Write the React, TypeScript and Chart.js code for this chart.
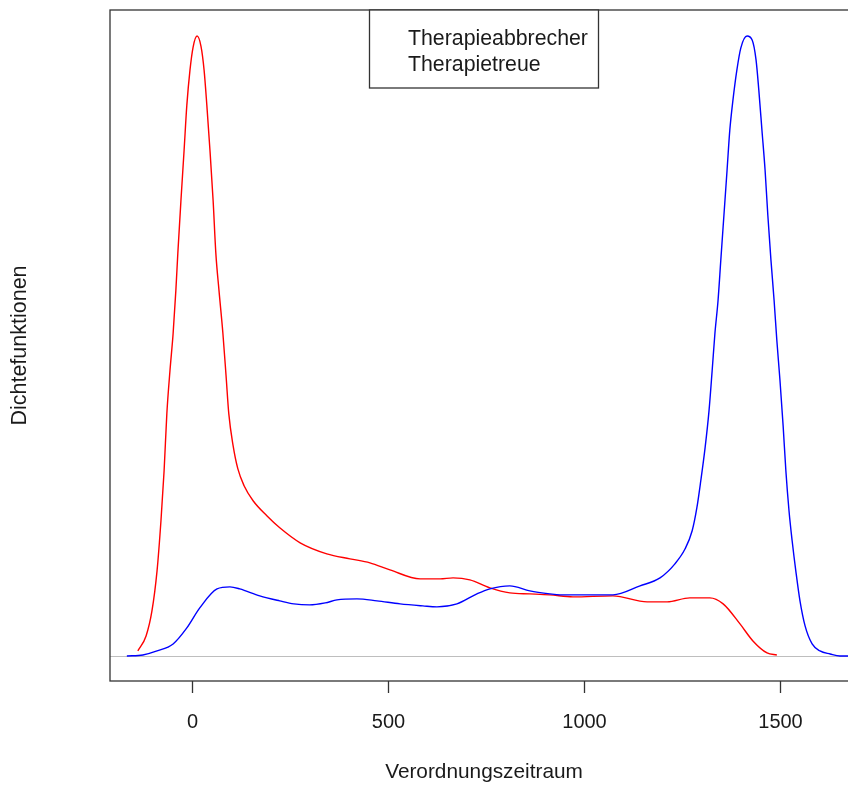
import React, { useEffect, useRef } from "react";
import { Chart, registerables } from "chart.js";

Chart.register(...registerables);

// Axis ticks (x) — no y ticks drawn in the original
const xTicks = [0, 500, 1000, 1500];
const xTitle = "Verordnungszeitraum";
const yTitle = "Dichtefunktionen";
const legendLabels = ["Therapieabbrecher", "Therapietreue"];

// Density of "Therapieabbrecher" (red), y in units of 1e-4
const redX = [-138, -117, -102, -89, -79, -71, -64, -56, -48, -41, -36, -28, -20, -13, -5, 3, 13, 23, 31, 38, 46, 54, 61, 69, 79, 87, 94, 105, 117, 133, 156, 191, 224, 276, 344, 403, 454, 505, 582, 633, 666, 709, 760, 811, 862, 913, 972, 1074, 1161, 1212, 1270, 1321, 1355, 1398, 1431, 1467, 1492];
const redY = [0.25, 1.0, 2.25, 4.25, 6.75, 9.25, 12.1, 14.25, 16.1, 18.25, 20.1, 22.75, 25.25, 27.5, 29.25, 30.4, 30.95, 30.45, 29.25, 27.5, 25.25, 22.75, 20.1, 18.25, 16.1, 14.0, 12.1, 10.5, 9.35, 8.5, 7.75, 7.0, 6.4, 5.65, 5.1, 4.85, 4.65, 4.3, 3.85, 3.85, 3.9, 3.8, 3.4, 3.15, 3.1, 3.05, 2.95, 3.0, 2.7, 2.7, 2.9, 2.9, 2.6, 1.6, 0.75, 0.15, 0.05];

// Density of "Therapietreue" (blue)
const blueX = [-166, -125, -89, -48, -13, 20, 64, 97, 122, 173, 224, 260, 300, 340, 370, 421, 472, 531, 589, 625, 676, 727, 760, 811, 862, 913, 939, 1074, 1143, 1194, 1232, 1258, 1276, 1288, 1298, 1309, 1319, 1327, 1334, 1342, 1349, 1357, 1365, 1372, 1380, 1390, 1400, 1416, 1429, 1439, 1446, 1454, 1462, 1469, 1477, 1485, 1492, 1500, 1508, 1515, 1523, 1531, 1541, 1551, 1564, 1582, 1602, 1628, 1653, 1720];
const blueY = [0, 0.05, 0.25, 0.6, 1.4, 2.4, 3.35, 3.45, 3.35, 3.0, 2.75, 2.6, 2.55, 2.65, 2.8, 2.85, 2.75, 2.6, 2.5, 2.45, 2.6, 3.1, 3.35, 3.5, 3.25, 3.1, 3.05, 3.05, 3.5, 3.9, 4.6, 5.35, 6.25, 7.4, 8.75, 10.4, 12.25, 14.25, 16.1, 17.75, 19.75, 22.0, 24.25, 26.25, 27.75, 29.25, 30.35, 30.95, 30.75, 29.75, 28.25, 26.25, 24.25, 22.0, 19.75, 17.75, 15.75, 13.75, 11.5, 9.25, 7.25, 5.75, 4.15, 2.75, 1.5, 0.6, 0.25, 0.1, 0, 0];

const xMin = -209;
const xMax = 1699;
const yMin = -1.25;
const yMax = 32.25;

const FONT = "'Liberation Sans', Arial, sans-serif";
const INK = "#1a1a1a";
const AXIS = "#333333";

const decorPlugin = {
  id: "rDecor",
  beforeDatasetsDraw(chart: any) {
    const { ctx, chartArea, scales } = chart;
    const y0 = Math.round(scales.y.getPixelForValue(0)) + 0.5;
    ctx.save();
    ctx.strokeStyle = "#bebebe";
    ctx.lineWidth = 1;
    ctx.beginPath();
    ctx.moveTo(chartArea.left, y0);
    ctx.lineTo(chartArea.right, y0);
    ctx.stroke();
    ctx.restore();
  },
  afterDraw(chart: any) {
    const { ctx, chartArea, scales } = chart;
    const { left, right, top, bottom } = chartArea;
    ctx.save();
    // box
    ctx.strokeStyle = AXIS;
    ctx.lineWidth = 1.3;
    ctx.strokeRect(left, top, right - left, bottom - top);
    // x ticks
    ctx.font = `20px ${FONT}`;
    ctx.fillStyle = INK;
    ctx.textAlign = "center";
    ctx.textBaseline = "alphabetic";
    for (const t of xTicks) {
      const px = Math.round(scales.x.getPixelForValue(t)) + 0.5;
      ctx.beginPath();
      ctx.moveTo(px, bottom);
      ctx.lineTo(px, bottom + 12);
      ctx.stroke();
      ctx.fillText(String(t), px, bottom + 47);
    }
    // x title
    ctx.font = `20.8px ${FONT}`;
    ctx.fillText(xTitle, (left + right) / 2, 778);
    // y title
    ctx.save();
    ctx.translate(26, (top + bottom) / 2);
    ctx.rotate(-Math.PI / 2);
    ctx.font = `21.5px ${FONT}`;
    ctx.fillText(yTitle, 0, 0);
    ctx.restore();
    // legend
    ctx.fillStyle = "#ffffff";
    ctx.fillRect(369, 10, 229, 78);
    ctx.strokeStyle = AXIS;
    ctx.lineWidth = 1.3;
    ctx.strokeRect(369.5, 10, 229, 78);
    ctx.fillStyle = INK;
    ctx.textAlign = "left";
    ctx.font = `21.3px ${FONT}`;
    ctx.fillText(legendLabels[0], 408, 45);
    ctx.fillText(legendLabels[1], 408, 71);
    ctx.restore();
  },
};

export default function App() {
  const ref = useRef<HTMLCanvasElement | null>(null);
  useEffect(() => {
    if (!ref.current) return;
    const chart = new Chart(ref.current, {
      type: "line",
      data: {
        datasets: [
          {
            label: legendLabels[0],
            data: redX.map((x, i) => ({ x, y: redY[i] })),
            borderColor: "#ff0000",
            borderWidth: 1.4,
            pointRadius: 0,
            cubicInterpolationMode: "monotone",
            fill: false,
            order: 1,
          },
          {
            label: legendLabels[1],
            data: blueX.map((x, i) => ({ x, y: blueY[i] })),
            borderColor: "#0000ff",
            borderWidth: 1.4,
            pointRadius: 0,
            cubicInterpolationMode: "monotone",
            fill: false,
            order: 0,
          },
        ],
      },
      options: {
        animation: false,
        responsive: false,
        devicePixelRatio: 1,
        layout: { padding: { left: 110, top: 10, right: 0, bottom: 105 } },
        plugins: { legend: { display: false }, tooltip: { enabled: false } },
        scales: {
          x: { type: "linear", min: xMin, max: xMax, display: false },
          y: { type: "linear", min: yMin, max: yMax, display: false },
        },
      },
      plugins: [decorPlugin],
    });
    return () => chart.destroy();
  }, []);
  return (
    <div style={{ position: "absolute", left: 0, top: 0, width: 848, height: 786, overflow: "hidden", background: "#fff" }}>
      <canvas ref={ref} width={858} height={786} style={{ display: "block" }} />
    </div>
  );
}
